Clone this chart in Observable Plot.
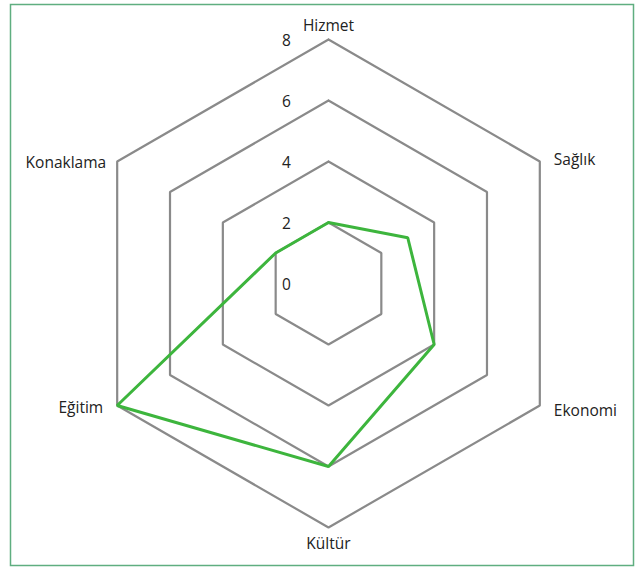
<!DOCTYPE html>
<html><head><meta charset="utf-8">
<script src="https://cdn.jsdelivr.net/npm/d3@7"></script>
<script src="https://cdn.jsdelivr.net/npm/@observablehq/plot@0.6"></script>
<style>body{margin:0;background:#fff} #chart{position:absolute;left:0;top:0}</style>
</head><body><div id="chart"></div>
<script>
const categories = ["Hizmet", "Sağlık", "Ekonomi", "Kültür", "Eğitim", "Konaklama"];
const values = [2, 3, 4, 6, 8, 2];
const ringLevels = [2, 4, 6, 8];
const tickLabels = [0, 2, 4, 6, 8];
const maxValue = 8;

const n = categories.length;
const angle = i => Math.PI / 2 - i * 2 * Math.PI / n;
const px = (i, r) => r * Math.cos(angle(i));
const py = (i, r) => r * Math.sin(angle(i));

const rings = ringLevels.flatMap(level => d3.range(n + 1).map(k => ({level, x: px(k % n, level), y: py(k % n, level)})));
const series = d3.range(n + 1).map(k => ({x: px(k % n, values[k % n]), y: py(k % n, values[k % n])}));
const labels = categories.map((name, i) => ({name, i, x: px(i, maxValue), y: py(i, maxValue), c: Math.cos(angle(i))}));

const font = "'Open Sans', sans-serif";
const fs = 15.5;
const ink = "#222";
const chart = Plot.plot({
  width: 638, height: 568,
  marginLeft: 10, marginRight: 5, marginTop: 4, marginBottom: 3,
  x: {domain: [-10.426, 10.0], axis: null},
  y: {domain: [-9.246, 9.148], axis: null},
  style: {fontFamily: font, fontSize: fs + "px", color: ink, background: "#fff"},
  marks: [
    Plot.frame({stroke: "#5fae80", strokeWidth: 1.5}),
    Plot.line(rings, {x: "x", y: "y", z: "level", stroke: "#8a8a8a", strokeWidth: 2.2, strokeLinejoin: "miter"}),
    Plot.line(series, {x: "x", y: "y", stroke: "#3db53d", strokeWidth: 3, strokeLinejoin: "miter"}),
    Plot.text(tickLabels, {x: () => -1.38, y: d => d, text: d => String(d), dy: 2, fontSize: fs, fill: ink}),
    Plot.text(labels.filter(d => Math.abs(d.c) < 0.01 && d.y > 0), {x: "x", y: "y", text: "name", dy: -13, fontSize: fs, fill: ink}),
    Plot.text(labels.filter(d => Math.abs(d.c) < 0.01 && d.y < 0), {x: "x", y: "y", text: "name", dy: 17, fontSize: fs, fill: ink}),
    Plot.text(labels.filter(d => d.c > 0.01 && d.y > 0), {x: "x", y: "y", text: "name", textAnchor: "start", dx: 14, dy: -1, fontSize: fs, fill: ink}),
    Plot.text(labels.filter(d => d.c > 0.01 && d.y < 0), {x: "x", y: "y", text: "name", textAnchor: "start", dx: 14, dy: 6, fontSize: fs, fill: ink}),
    Plot.text(labels.filter(d => d.c < -0.01 && d.y > 0), {x: "x", y: "y", text: "name", textAnchor: "end", dx: -11, dy: 2, fontSize: fs, fill: ink}),
    Plot.text(labels.filter(d => d.c < -0.01 && d.y < 0), {x: "x", y: "y", text: "name", textAnchor: "end", dx: -14, dy: 3, fontSize: fs, fill: ink})
  ]
});
document.getElementById("chart").appendChild(chart);
</script>
</body></html>
